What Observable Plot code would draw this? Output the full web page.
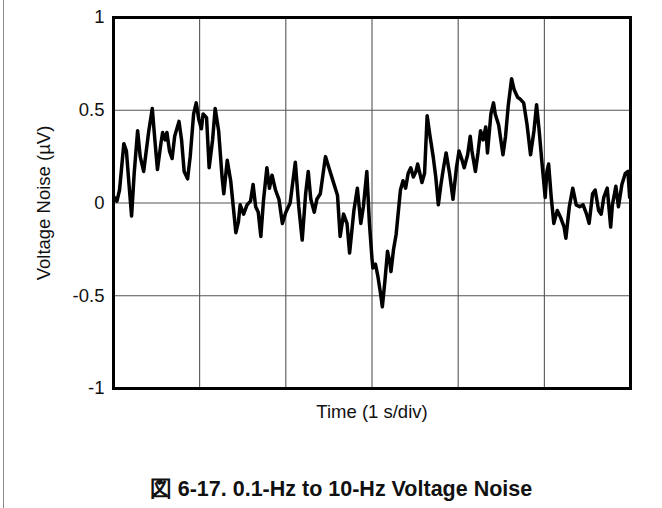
<!DOCTYPE html>
<html>
<head>
<meta charset="utf-8">
<script src="https://cdn.jsdelivr.net/npm/d3@7"></script>
<script src="https://cdn.jsdelivr.net/npm/@observablehq/plot@0.6"></script>
<style>
  html, body { margin: 0; padding: 0; background: #fff; }
  #wrap { position: relative; width: 662px; height: 508px; overflow: hidden; }
  #edge { position: absolute; left: 3px; top: 0; width: 1px; height: 508px; background: #888; }
  #caption { position: absolute; left: 0; top: 477px; width: 682px; text-align: center;
             font-family: "Liberation Sans", Arial, sans-serif; font-weight: bold; font-size: 21.5px;
             color: #111; line-height: 24px; }
</style>
</head>
<body>
<div id="wrap">
  <div id="edge"></div>
  <div id="chart"></div>
  <div id="caption"></div>
</div>
<script>
// Time in seconds (1 s per division, 6 divisions)
const time = [
  0.01,0.04,0.07,0.12,0.15,0.18,0.21,0.24,0.28,0.31,0.35,0.38,0.41,0.45,0.48,0.51,0.55,0.57,0.60,0.62,
  0.65,0.68,0.71,0.76,0.79,0.82,0.86,0.89,0.93,0.96,0.99,1.02,1.04,1.08,1.11,1.15,1.18,1.22,1.26,1.28,
  1.32,1.36,1.39,1.42,1.45,1.47,1.51,1.55,1.59,1.62,1.65,1.68,1.71,1.74,1.78,1.81,1.84,1.88,1.92,1.96,
  2.00,2.05,2.11,2.15,2.19,2.23,2.26,2.29,2.33,2.36,2.40,2.46,2.50,2.54,2.60,2.63,2.67,2.71,2.74,2.79,
  2.83,2.87,2.90,2.94,2.97,3.00,3.01,3.04,3.07,3.10,3.12,3.15,3.18,3.21,3.22,3.25,3.28,3.33,3.36,3.39,
  3.42,3.45,3.48,3.51,3.53,3.56,3.58,3.61,3.64,3.67,3.71,3.74,3.77,3.80,3.83,3.86,3.90,3.94,3.98,4.01,
  4.04,4.07,4.11,4.14,4.16,4.20,4.23,4.26,4.29,4.32,4.34,4.38,4.41,4.43,4.47,4.52,4.55,4.58,4.62,4.65,
  4.69,4.72,4.76,4.80,4.84,4.88,4.91,4.94,4.97,5.01,5.03,5.05,5.08,5.11,5.15,5.19,5.23,5.25,5.29,5.33,
  5.37,5.41,5.45,5.49,5.52,5.56,5.59,5.63,5.66,5.69,5.73,5.77,5.79,5.83,5.86,5.90,5.94,5.97,5.99
];
// Voltage noise in µV
const noise = [
  0.03,0.01,0.07,0.32,0.28,0.10,-0.07,0.16,0.39,0.25,0.17,0.28,0.39,0.51,0.34,0.18,0.32,0.38,0.34,0.38,
  0.28,0.24,0.36,0.44,0.34,0.17,0.13,0.25,0.48,0.54,0.45,0.40,0.48,0.46,0.19,0.34,0.51,0.39,0.14,0.05,
  0.23,0.12,-0.02,-0.16,-0.10,-0.01,-0.06,-0.01,0.01,0.10,-0.02,-0.05,-0.18,0.01,0.19,0.08,0.15,0.07,0.02,-0.11,
  -0.05,0.00,0.22,-0.02,-0.20,0.05,0.17,0.02,-0.05,0.02,0.05,0.25,0.19,0.13,0.04,-0.18,-0.06,-0.11,-0.27,-0.04,
  0.08,-0.11,-0.02,0.17,-0.11,-0.30,-0.35,-0.33,-0.40,-0.49,-0.56,-0.42,-0.26,-0.33,-0.37,-0.25,-0.17,0.07,0.12,0.08,
  0.16,0.19,0.14,0.17,0.21,0.15,0.11,0.16,0.47,0.37,0.25,0.14,-0.01,0.10,0.19,0.27,0.16,0.02,0.19,0.28,
  0.24,0.19,0.26,0.36,0.28,0.17,0.27,0.39,0.34,0.41,0.27,0.48,0.54,0.48,0.42,0.26,0.36,0.52,0.67,0.61,
  0.57,0.56,0.54,0.42,0.26,0.39,0.53,0.39,0.23,0.03,0.17,0.21,0.03,-0.11,-0.04,-0.08,-0.13,-0.19,-0.02,0.08,
  -0.01,-0.02,-0.01,-0.06,-0.11,0.05,0.07,-0.04,-0.06,0.03,0.08,-0.13,-0.01,0.09,-0.02,0.10,0.16,0.17,0.03
];
const yTicks = [-1, -0.5, 0, 0.5, 1];
const xGridLines = [1, 2, 3, 4, 5];
const yGridLines = [-0.5, 0, 0.5];
const xLabel = "Time (1 s/div)";
const yLabel = "Voltage Noise (\u00B5V)";
const captionText = "図 6-17. 0.1-Hz to 10-Hz Voltage Noise";

const data = time.map((t, i) => ({t, v: noise[i]}));

const chart = Plot.plot({
  width: 662,
  height: 448,
  marginLeft: 113,
  marginRight: 32,
  marginTop: 17,
  marginBottom: 60,
  style: {fontFamily: "'Liberation Sans', Arial, sans-serif", fontSize: "18.5px", color: "#111", background: "transparent", overflow: "visible"},
  x: {domain: [0, 6]},
  y: {domain: [-1, 1]},
  marks: [
    Plot.gridX(xGridLines, {stroke: "#444", strokeOpacity: 1, strokeWidth: 1}),
    Plot.gridY(yGridLines, {stroke: "#555", strokeOpacity: 1, strokeWidth: 1}),
    Plot.line(data, {x: "t", y: "v", stroke: "#000", strokeWidth: 3.5, strokeLinejoin: "round", strokeLinecap: "round"}),
    Plot.frame({stroke: "#000", strokeWidth: 3}),
    Plot.axisY(yTicks, {tickSize: 0, tickPadding: 9, tickFormat: d => String(d).replace("\u2212", "-"),
      label: yLabel, labelAnchor: "center", labelArrow: "none", labelOffset: 77}),
    Plot.axisX([], {tickSize: 0, label: xLabel, labelAnchor: "center", labelArrow: "none", labelOffset: 29})
  ]
});
document.getElementById("chart").appendChild(chart);
document.getElementById("caption").textContent = captionText;
</script>
</body>
</html>
